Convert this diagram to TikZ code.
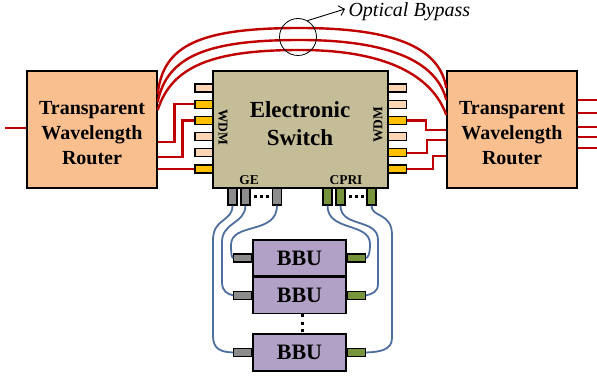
\documentclass[tikz,border=0pt]{standalone}
\usepackage{fontspec}
\setmainfont{Liberation Serif}
\usetikzlibrary{positioning,arrows.meta}

\definecolor{routerfill}{RGB}{250,191,143}
\definecolor{switchfill}{RGB}{196,189,151}
\definecolor{bbufill}{RGB}{178,161,199}
\definecolor{peachport}{RGB}{252,213,181}
\definecolor{yellowport}{RGB}{255,192,0}
\definecolor{greyport}{RGB}{140,140,140}
\definecolor{greenport}{RGB}{119,147,60}
\definecolor{fibrered}{RGB}{192,0,0}
\definecolor{cableblue}{RGB}{79,110,160}

\begin{document}
\begin{tikzpicture}[x=1pt,y=-1pt,
  box/.style={draw,line width=1.4pt,inner sep=0pt},
  port/.style={draw,line width=1.1pt,minimum width=18pt,minimum height=8pt,inner sep=0pt},
  vport/.style={draw,line width=1.1pt,minimum width=9pt,minimum height=17pt,inner sep=0pt},
  fibre/.style={fibrered,line width=2.4pt},
  cable/.style={cableblue,line width=1.8pt},
  dots/.style={line width=3pt,dash pattern=on 3pt off 3pt},
  rtext/.style={align=center,font=\fontsize{20}{25}\selectfont\bfseries},
  small/.style={font=\fontsize{13.5}{14}\selectfont\bfseries}]
\useasboundingbox (0,0) rectangle (597,377);

\node[box,fill=routerfill,minimum width=130pt,minimum height=117pt] (ltwr) at (92,129.5) {};
\node[rtext] (ltwrtext) at (92,133) {Transparent\\Wavelength\\Router};
\node[box,fill=routerfill,minimum width=130pt,minimum height=117pt] (rtwr) at (512,129.5) {};
\node[rtext] (rtwrtext) at (512,133) {Transparent\\Wavelength\\Router};
\node[box,fill=switchfill,minimum width=175pt,minimum height=117pt] (sw) at (300.5,129.5) {};
\node[align=center,font=\fontsize{23}{28}\selectfont\bfseries] (swtext) at (300,124) {Electronic\\Switch};
\node[rotate=-90,small] (wdml) at (223,127) {WDM};
\node[rotate=90,small] (wdmr) at (378,125) {WDM};

\foreach \i/\c in {1/peachport,2/yellowport,3/yellowport,4/peachport,5/peachport,6/yellowport}
  \node[port,fill=\c] (wl\i) at (204,71.8+16.2*\i) {};
\foreach \i/\c in {1/peachport,2/peachport,3/yellowport,4/peachport,5/yellowport,6/yellowport}
  \node[port,fill=\c] (wr\i) at (397.5,71.8+16.2*\i) {};

\coordinate (in) at (5,128);
\draw[fibre] (in) -- (in -| ltwr.west);
\foreach \y [count=\k] in {100,113,127,137,148} {
  \coordinate (out\k) at (597,\y);
  \draw[fibre] (out\k -| rtwr.east) -- (out\k);
}

\draw[fibre] (ltwr.east |- 0,142) -| ([xshift=-20pt]wl2.west) -- (wl2.west);
\draw[fibre] (ltwr.east |- 0,157) -| ([xshift=-12pt]wl3.west) -- (wl3.west);
\draw[fibre] (ltwr.east |- wl6) -- (wl6.west);
\draw[fibre] (wr3.east) -| (426,130) -- (rtwr.west |- 0,130);
\draw[fibre] (wr5.east) -| (427,140) -- (rtwr.west |- 0,140);
\draw[fibre] (wr6.east) -| (433,156) -- (rtwr.west |- 0,156);

\draw[fibre] (ltwr.east |- 0,94) .. controls (163,45) and (200,28) .. (300,28)
  .. controls (400,28) and (440,50) .. (rtwr.west |- 0,88);
\draw[fibre] (ltwr.east |- 0,102) .. controls (167,55) and (210,40) .. (300,40)
  .. controls (390,40) and (437,62) .. (rtwr.west |- 0,100);
\draw[fibre] (ltwr.east |- 0,110) .. controls (172,65) and (215,50) .. (300,50)
  .. controls (385,50) and (432,75) .. (rtwr.west |- 0,115);

\node[draw,circle,minimum size=37pt,line width=0.8pt,inner sep=0pt] (byp) at (298,37) {};
\node[anchor=west,font=\fontsize{20}{24}\selectfont\itshape] (opt) at (345,12) {Optical Bypass};
\draw[line width=0.9pt,-{Straight Barb[length=5pt]}] (byp.60) -- ([yshift=3pt]opt.west);

\foreach \i/\x in {1/232.5,2/245.5,3/277}
  \node[vport,fill=greyport] (ge\i) at (\x,196.5) {};
\foreach \i/\x in {1/327.5,2/340.5,3/371.5}
  \node[vport,fill=greenport] (cp\i) at (\x,196.5) {};
\draw[dots] ([xshift=3.5pt]ge2.east) -- ++(15,0);
\draw[dots] ([xshift=3.5pt]cp2.east) -- ++(15,0);
\node[small] (gelbl) at (249,180) {GE};
\node[small] (cprilbl) at (346,180) {CPRI};

\node[box,fill=bbufill,minimum width=93pt,minimum height=36pt,
  font=\fontsize{22}{22}\selectfont\bfseries] (bbu1) at (299.5,258) {BBU};
\node[box,fill=bbufill,minimum width=93pt,minimum height=36pt,
  font=\fontsize{22}{22}\selectfont\bfseries,below=0pt of bbu1] (bbu2) {BBU};
\node[box,fill=bbufill,minimum width=93pt,minimum height=37pt,
  font=\fontsize{22}{22}\selectfont\bfseries] (bbu3) at (299.5,352.5) {BBU};
\draw[dots,dash pattern=on 3pt off 4.5pt] ([xshift=2.5pt]bbu2.south) -- ([xshift=2.5pt]bbu3.north);
\foreach \i in {1,2,3} {
  \node[port,fill=greyport,anchor=east] (bl\i) at (bbu\i.west) {};
  \node[port,fill=greenport,anchor=west] (br\i) at (bbu\i.east) {};
}

\draw[cable] (ge1.south) .. controls (232.5,222) and (213,218) .. (213,240) -- (213,336)
  .. controls (213,350) and (222,352) .. (bl3.west);
\draw[cable] (ge2.south) .. controls (245,224) and (222,222) .. (222,242) -- (222,282)
  .. controls (222,292) and (228,294) .. (bl2.west);
\draw[cable] (ge3.south) .. controls (277,235) and (231,222) .. (231,245)
  .. controls (231,255) and (232,258) .. (bl1.west);
\draw[cable] (cp1.south) .. controls (327.5,232) and (370,222) .. (370,244)
  .. controls (370,254) and (368,258) .. (br1.east);
\draw[cable] (cp2.south) .. controls (340.5,228) and (378,218) .. (378,240) -- (378,284)
  .. controls (378,292) and (372,294) .. (br2.east);
\draw[cable] (cp3.south) .. controls (371.5,218) and (392,212) .. (392,235) -- (392,338)
  .. controls (392,350) and (380,352) .. (br3.east);
\end{tikzpicture}
\end{document}
